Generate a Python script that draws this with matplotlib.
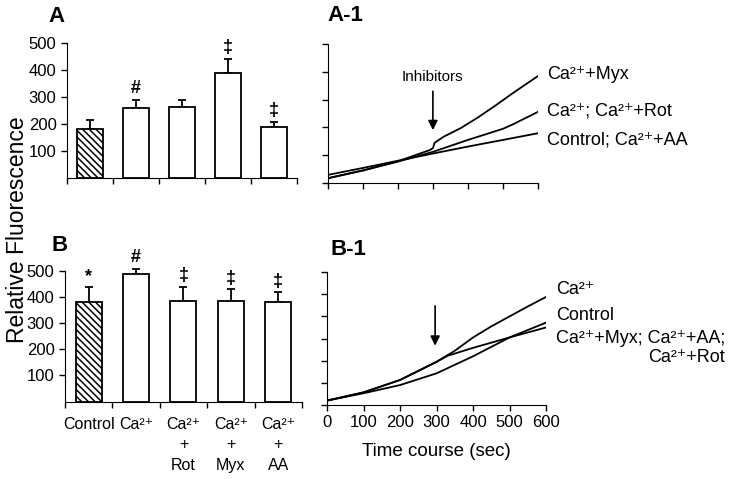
import numpy as np
import matplotlib
matplotlib.use('Agg')
import matplotlib.pyplot as plt

plt.rcParams['font.family'] = ['Liberation Sans', 'DejaVu Sans']
plt.rcParams['hatch.linewidth'] = 1.1

CA = 'Ca\u00b2\u207a'

# bar data
groups = ['Control', CA, CA + '\n+\nRot', CA + '\n+\nMyx', CA + '\n+\nAA']
a_vals = [181, 259, 263, 389, 189]
a_err = [34, 30, 26, 52, 18]
a_marks = ['', '#', '', '\u2021', '\u2021']
b_vals = [381, 489, 384, 386, 381]
b_err = [55, 19, 54, 43, 36]
b_marks = ['*', '#', '\u2021', '\u2021', '\u2021']

# time course curves (arbitrary units)
a1_ctrl_t = [0, 100, 200, 300, 400, 500, 600]
a1_ctrl_y = [0.29, 0.54, 0.80, 1.06, 1.31, 1.55, 1.79]
a1_rot_t = [0, 100, 200, 300, 400, 500, 530, 600]
a1_rot_y = [0.17, 0.45, 0.77, 1.12, 1.55, 1.95, 2.12, 2.56]
a1_myx_t = [0, 100, 200, 290, 300, 305, 330, 380, 430, 480, 530, 600]
a1_myx_y = [0.17, 0.45, 0.78, 1.18, 1.25, 1.45, 1.66, 1.98, 2.37, 2.80, 3.25, 3.85]

b1_ca_t = [0, 100, 200, 300, 350, 400, 450, 500, 550, 600]
b1_ca_y = [0.2, 0.57, 1.13, 1.95, 2.45, 3.05, 3.55, 4.0, 4.45, 4.88]
b1_ctrl_t = [0, 100, 200, 300, 400, 500, 600]
b1_ctrl_y = [0.2, 0.53, 0.90, 1.43, 2.20, 3.05, 3.72]
b1_inh_t = [0, 100, 200, 300, 330, 400, 500, 600]
b1_inh_y = [0.2, 0.57, 1.13, 1.95, 2.22, 2.58, 3.05, 3.50]

fig = plt.figure(figsize=(7.4, 4.79), dpi=100)


def bar_panel(ax, vals, errs, marks, show_labels):
    x = np.arange(len(vals))
    hatches = ['\\\\\\\\\\', '', '', '', '']
    for i in range(len(vals)):
        ax.bar(x[i], vals[i], width=0.55, color='white', edgecolor='black',
               linewidth=1.3, hatch=hatches[i], zorder=3)
    eb = ax.errorbar(x, vals, yerr=[np.zeros(len(vals)), errs], fmt='none',
                     ecolor='black', elinewidth=1.3, capsize=3, capthick=1.3, zorder=2)
    for art in eb.lines[1] + eb.lines[2]:
        art.set_clip_on(False)
    for i in range(len(vals)):
        if marks[i]:
            ax.annotate(marks[i], (x[i], vals[i] + errs[i]), xytext=(0, 2),
                        textcoords='offset points', ha='center', va='bottom',
                        fontsize=13, fontweight='bold', annotation_clip=False)
    ax.set_xlim(-0.5, len(vals) - 0.5)
    ax.set_ylim(0, 500)
    ax.set_yticks([100, 200, 300, 400, 500])
    ax.set_xticks(np.arange(len(vals) + 1) - 0.5)
    ax.set_xticklabels([])
    if show_labels:
        ax.set_xticks(x, minor=True)
        ax.set_xticklabels(groups, minor=True, fontsize=11.5, linespacing=1.45)
        ax.tick_params(axis='x', which='minor', length=0, pad=11)
    ax.tick_params(axis='both', which='major', direction='out', length=4, width=1, labelsize=12)
    for s in ['top', 'right']:
        ax.spines[s].set_visible(False)


def line_panel(ax, ymax, show_xlabels):
    ax.set_xlim(0, 600)
    ax.set_ylim(0, ymax)
    ax.set_xticks(range(0, 601, 100))
    ax.set_yticks(range(0, ymax + 1))
    ax.set_yticklabels([])
    if not show_xlabels:
        ax.set_xticklabels([])
    ax.tick_params(direction='out', length=4, width=1, labelsize=12)
    for s in ['top', 'right']:
        ax.spines[s].set_visible(False)


axA = fig.add_axes([0.0905, 0.628, 0.311, 0.282])
bar_panel(axA, a_vals, a_err, a_marks, False)
axB = fig.add_axes([0.0878, 0.1614, 0.3202, 0.2735])
bar_panel(axB, b_vals, b_err, b_marks, True)

axA1 = fig.add_axes([0.443, 0.618, 0.284, 0.290])
line_panel(axA1, 5, False)
for t, y in [(a1_ctrl_t, a1_ctrl_y), (a1_rot_t, a1_rot_y), (a1_myx_t, a1_myx_y)]:
    axA1.plot(t, y, color='black', lw=1.3)
axA1.annotate('', xy=(300, 1.8), xytext=(300, 3.4),
              arrowprops=dict(arrowstyle='-|>', color='black', lw=1.2, mutation_scale=14))
axA1.text(300, 3.82, 'Inhibitors', ha='center', va='center', fontsize=11)
txt = dict(fontsize=13, va='center', ha='left', clip_on=False)
axA1.text(626, 3.92, CA + '+Myx', **txt)
axA1.text(626, 2.59, CA + '; ' + CA + '+Rot', **txt)
axA1.text(626, 1.55, 'Control; ' + CA + '+AA', **txt)

axB1 = fig.add_axes([0.442, 0.1545, 0.296, 0.2775])
line_panel(axB1, 6, True)
for t, y in [(b1_ca_t, b1_ca_y), (b1_ctrl_t, b1_ctrl_y), (b1_inh_t, b1_inh_y)]:
    axB1.plot(t, y, color='black', lw=1.3)
axB1.annotate('', xy=(296, 2.55), xytext=(296, 4.6),
              arrowprops=dict(arrowstyle='-|>', color='black', lw=1.2, mutation_scale=14))
axB1.text(627, 5.2, CA, **txt)
axB1.text(627, 4.02, 'Control', **txt)
axB1.text(627, 3.4, CA + '+Myx; ' + CA + '+AA;\n' + CA + '+Rot', fontsize=13,
          ha='left', va='top', multialignment='right', linespacing=1.2, clip_on=False)
axB1.set_xlabel('Time course (sec)', fontsize=13.5, labelpad=9)

fig.text(0.023, 0.52, 'Relative Fluorescence', rotation=90, ha='center', va='center', fontsize=16.5)
fig.text(0.066, 0.965, 'A', fontsize=16, fontweight='bold', ha='left', va='center')
fig.text(0.070, 0.487, 'B', fontsize=16, fontweight='bold', ha='left', va='center')
fig.text(0.442, 0.968, 'A-1', fontsize=16, fontweight='bold', ha='left', va='center')
fig.text(0.446, 0.48, 'B-1', fontsize=16, fontweight='bold', ha='left', va='center')

fig.savefig('out.png', dpi=100)
